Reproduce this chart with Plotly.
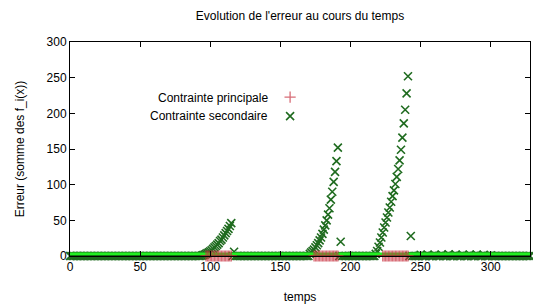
import plotly.graph_objects as go

# ---- data ----
temps = list(range(0, 329))
valeur_de_base = 0.0

# secondary constraint: three rising episodes + isolated points
montee1_t = list(range(94, 116))
montee1_v = [0.6, 1.2, 2, 3, 4, 5, 6.5, 8, 10, 12, 14, 16, 18, 21, 23, 26, 29, 32, 35, 38, 42, 46]
montee2_t = list(range(171, 192))
montee2_v = [3, 5, 7, 9, 12, 15, 18, 22, 26, 31, 37, 43, 50, 58, 67, 79, 90, 104, 118, 133, 152]
montee3_t = list(range(218, 242))
montee3_v = [3, 7, 13, 19, 26, 33, 40, 47, 54, 61, 68, 76, 84, 92, 101, 111, 122, 134, 149, 166, 186, 205, 228, 252]
isoles_t = [117, 193, 243]
isoles_v = [6, 20, 28]
faibles_t = list(range(250, 301, 5))
faibles_v = [1.5, 2, 1.5, 2, 2.5, 2, 1.5, 2, 2, 1.5, 1]

# principal constraint: visible near zero during the episodes
principale_t = list(range(97, 116)) + list(range(174, 192)) + list(range(223, 242))
principale_v = [0.0] * len(principale_t)

# build secondary series over all time steps
secondaire = {t: valeur_de_base for t in temps}
for ts, vs in ((montee1_t, montee1_v), (montee2_t, montee2_v), (montee3_t, montee3_v),
               (isoles_t, isoles_v), (faibles_t, faibles_v)):
    for t, v in zip(ts, vs):
        secondaire[t] = v
sec_x = list(secondaire.keys())
sec_y = list(secondaire.values())

# baseline band along zero
ligne_y = [valeur_de_base for t in temps]

FONT = "Liberation Sans"
DARKGREEN = "#1f6b1f"
RED = "#c8303f"

fig = go.Figure()

# secondary markers (baseline ones will be covered by the band)
fig.add_trace(go.Scatter(
    x=sec_x, y=sec_y, mode="markers", name="Contrainte secondaire",
    marker=dict(symbol="x-thin-open", size=8, color=DARKGREEN,
                line=dict(color=DARKGREEN, width=1.6)),
    cliponaxis=False, showlegend=True, legendrank=2))

# lime band with black centre line
fig.add_trace(go.Scatter(
    x=temps, y=ligne_y, mode="lines", showlegend=False, hoverinfo="skip",
    line=dict(color="#22ee22", width=7), cliponaxis=False))
fig.add_trace(go.Scatter(
    x=temps, y=ligne_y, mode="lines", showlegend=False, hoverinfo="skip",
    line=dict(color="#000000", width=1), cliponaxis=False))

# principal markers
fig.add_trace(go.Scatter(
    x=principale_t, y=principale_v, mode="markers", name="Contrainte principale",
    marker=dict(symbol="cross-thin-open", size=8, color=RED, line=dict(color=RED, width=1.3)),
    cliponaxis=False, showlegend=True, legendrank=1, opacity=0.7))

axis_common = dict(
    showgrid=False, zeroline=False, showline=True, linecolor="black", linewidth=1,
    mirror="ticks", ticks="inside", ticklen=5, tickcolor="black", automargin=False,
    tickfont=dict(family=FONT, size=12, color="black"))

fig.update_layout(
    width=533, height=307,
    margin=dict(l=70, r=3, t=42, b=51),
    paper_bgcolor="white", plot_bgcolor="white",
    title=dict(text="Evolution de l'erreur au cours du temps", x=0.5, xref="paper",
               y=0.95, yanchor="middle", font=dict(family=FONT, size=12, color="black")),
    xaxis=dict(range=[0, 328], dtick=50, title=dict(text="temps", standoff=19,
               font=dict(family=FONT, size=12, color="black")), **axis_common),
    yaxis=dict(range=[0, 300], dtick=50, title=dict(text="Erreur (somme des f_i(x))", standoff=19,
               font=dict(family=FONT, size=12, color="black")), **axis_common),
    legend=dict(x=0.435, y=0.81, xanchor="left", yanchor="top", bgcolor="rgba(0,0,0,0)",
                font=dict(family=FONT, size=10, color="rgba(0,0,0,0)"), tracegroupgap=0),
    annotations=[
        dict(text="Contrainte principale", xref="paper", yref="paper", x=0.435, y=0.738,
             xanchor="right", yanchor="middle", showarrow=False,
             font=dict(family=FONT, size=12, color="black")),
        dict(text="Contrainte secondaire", xref="paper", yref="paper", x=0.435, y=0.654,
             xanchor="right", yanchor="middle", showarrow=False,
             font=dict(family=FONT, size=12, color="black")),
    ],
)

fig.write_html("out.html", config={"displayModeBar": False},
               post_script="document.body.style.margin='0';")
